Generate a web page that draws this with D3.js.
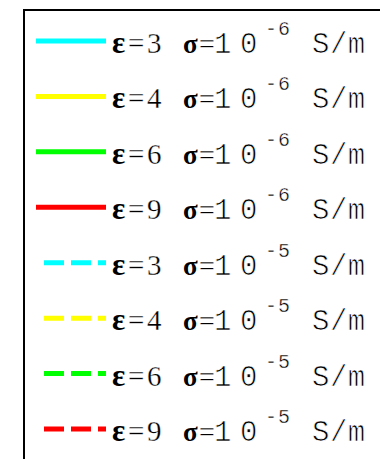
<!DOCTYPE html>
<html>
<head>
<meta charset="utf-8">
<script src="https://cdn.jsdelivr.net/npm/d3@7"></script>
<style>
  html, body { margin: 0; padding: 0; background: #fff; }
  svg { display: block; }
</style>
</head>
<body>
<script>
// legend entries
const permittivity = [3, 4, 6, 9, 3, 4, 6, 9];
const conductivityExp = [-6, -6, -6, -6, -5, -5, -5, -5];
const epsKeys = [3, 4, 6, 9];
const epsColors = ["#00ffff", "#ffff00", "#00ff00", "#ff0000"];
const unitLabel = "S/m";

const width = 380, height = 459;

const svg = d3.select("body")
    .append("svg")
    .attr("width", width)
    .attr("height", height);

// legend box (runs off the right and bottom of the crop)
svg.append("rect")
    .attr("x", 24)
    .attr("y", 10)
    .attr("width", 420)
    .attr("height", 520)
    .attr("fill", "#fff")
    .attr("stroke", "#000")
    .attr("stroke-width", 2);

const color = d3.scaleOrdinal().domain(epsKeys).range(epsColors);
const rowY = d3.scalePoint()
    .domain(d3.range(permittivity.length))
    .range([41, 429]);

const entries = permittivity.map((e, i) => ({ eps: e, exp: conductivityExp[i], i }));
const dashedExp = -5;

const rows = svg.selectAll(".entry")
    .data(entries)
    .enter()
    .append("g")
    .attr("class", "entry")
    .attr("transform", d => `translate(0,${rowY(d.i)})`);

rows.append("line")
    .attr("x1", d => d.exp === dashedExp ? 44 : 36)
    .attr("x2", 106)
    .attr("y1", 0)
    .attr("y2", 0)
    .attr("stroke", d => color(d.eps))
    .attr("stroke-width", 5)
    .attr("stroke-dasharray", d => d.exp === dashedExp ? "20,7" : null);

const serif = "'Liberation Serif', 'Times New Roman', serif";
const mono = "'Liberation Mono', 'Courier New', monospace";

// thin = white outline drawn over the glyph to lighten it
function piece(sel, txt, x, y, family, size, weight, spacing, thin) {
    sel.append("text")
        .attr("x", x)
        .attr("y", y)
        .attr("font-family", family)
        .attr("font-size", size)
        .attr("font-weight", weight || "normal")
        .attr("letter-spacing", spacing || 0)
        .attr("fill", "#000")
        .attr("stroke", thin ? "#fff" : null)
        .attr("stroke-width", thin || null)
        .text(txt);
}

rows.each(function (d) {
    const g = d3.select(this);
    const base = 12;
    piece(g, "\u03b5", 112, base, serif, 31, "bold");
    piece(g, "=", 128, base, serif, 29, "normal", 0, 0.3);
    piece(g, String(d.eps), 147, base, serif, 29, "normal", 0, 0.3);
    piece(g, "\u03c3", 183, base, serif, 27, "bold");
    piece(g, "=", 199, base, serif, 28, "normal", 0, 0.3);
    piece(g, "1", 214, base, mono, 29, "normal", 0, 0.7);
    piece(g, "0", 240, base, mono, 29, "normal", 0, 0.7);
    piece(g, "-" + Math.abs(d.exp), 265, -6, mono, 20, "normal", 1, 0.4);
    piece(g, unitLabel, 312, base, mono, 29, "normal", 0.5, 0.7);
});
</script>
</body>
</html>
